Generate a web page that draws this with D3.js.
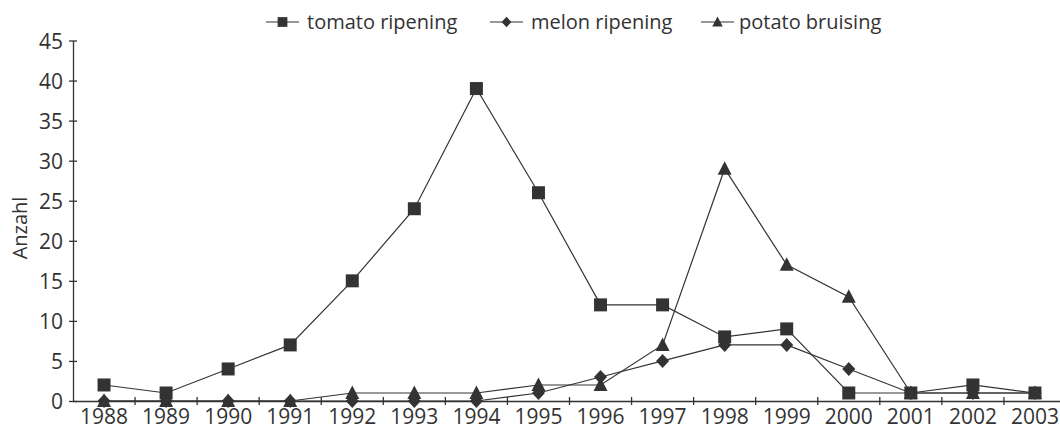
<html>
  <head>
    <meta charset="utf-8">
    <script src="https://d3js.org/d3.v7.min.js"></script>
    <style>
      body { margin: 0; background: #fff; }
      text { font-family: "Open Sans", sans-serif; fill: #333; }
    </style>
  </head>
  <body>
    <div id="chart"></div>
  <script>
    // data
    const years = ["1988","1989","1990","1991","1992","1993","1994","1995",
                   "1996","1997","1998","1999","2000","2001","2002","2003"]
    const tomato = [2, 1, 4, 7, 15, 24, 39, 26, 12, 12, 8, 9, 1, 1, 2, 1]
    const melon  = [0, 0, 0, 0, 0, 0, 0, 1, 3, 5, 7, 7, 4, 1, 1, 1]
    const potato = [0, 0, 0, 0, 1, 1, 1, 2, 2, 7, 29, 17, 13, 1, 1, 1]
    const yTicks = [0, 5, 10, 15, 20, 25, 30, 35, 40, 45]

    const series = [
      {name: "tomato ripening", values: tomato, shape: "square"},
      {name: "melon ripening",  values: melon,  shape: "diamond"},
      {name: "potato bruising", values: potato, shape: "triangle"}
    ]

    const W = 1060, H = 430
    const ink = "#333"

    const svg = d3.select("#chart").append("svg")
      .attr("width", W).attr("height", H)

    const x = d3.scaleBand().domain(years).range([73, 1066]).padding(0)
    const y = d3.scaleLinear().domain([0, 45]).range([401, 40.5])

    // marker shapes
    function shapePath(s) {
      if (s === "square") return "M-6.5,-6.5H6.5V6.5H-6.5Z"
      if (s === "diamond") return "M0,-7L6.5,0L0,7L-6.5,0Z"
      return "M0,-7.5L7,6L-7,6Z"
    }

    // y axis
    const yAxis = svg.append("g")
      .attr("transform", "translate(73,0)")
      .call(d3.axisLeft(y).tickValues(yTicks).tickSizeInner(4).tickSizeOuter(0).tickPadding(6))
    yAxis.select(".domain").attr("stroke", ink).attr("stroke-width", 1.3)
    yAxis.selectAll(".tick line").attr("x1", 4).attr("x2", -4).attr("stroke", ink).attr("stroke-width", 1.3)
    yAxis.selectAll(".tick text").style("font-size", "21px").attr("dy", "0.36em")

    // x axis: labels at band centres, tick marks at band edges
    const xAxis = svg.append("g")
      .attr("transform", "translate(0,401)")
      .call(d3.axisBottom(x).tickSize(0).tickPadding(8))
    xAxis.select(".domain").attr("stroke", ink).attr("stroke-width", 1.3)
    xAxis.selectAll(".tick text").style("font-size", "21px")

    xAxis.selectAll(".edge")
      .data(years)
      .join("line")
        .attr("class", "edge")
        .attr("x1", d => x(d) + x.bandwidth())
        .attr("x2", d => x(d) + x.bandwidth())
        .attr("y1", -4).attr("y2", 4)
        .attr("stroke", ink).attr("stroke-width", 1.3)

    svg.append("text")
      .attr("transform", "translate(27,228) rotate(-90)")
      .attr("text-anchor", "middle")
      .style("font-size", "20px")
      .text("Anzahl")

    const line = d3.line()
      .x((d, i) => x(years[i]) + x.bandwidth() / 2)
      .y(d => y(d))

    series.forEach(s => {
      svg.append("path")
        .datum(s.values)
        .attr("d", line)
        .attr("fill", "none")
        .attr("stroke", ink)
        .attr("stroke-width", 1.2)

      svg.append("g")
        .selectAll("path")
        .data(s.values)
        .join("path")
          .attr("d", shapePath(s.shape))
          .attr("transform", (d, i) => `translate(${x(years[i]) + x.bandwidth() / 2},${y(d)})`)
          .attr("fill", ink)
    })

    // legend
    const legendX = [266, 490, 701]
    const legend = svg.append("g")
    series.forEach((s, i) => {
      const g = legend.append("g").attr("transform", `translate(${legendX[i]},22)`)
      g.append("line").attr("x1", 0).attr("x2", 33).attr("stroke", ink).attr("stroke-width", 1.2)
      g.append("path").attr("d", shapePath(s.shape))
        .attr("transform", "translate(16.5,0) scale(0.75)")
        .attr("fill", ink)
      g.append("text").attr("x", i === 2 ? 38 : 41).attr("y", 7).style("font-size", "20px").text(s.name)
    })
  </script>
  </body>
</html>
